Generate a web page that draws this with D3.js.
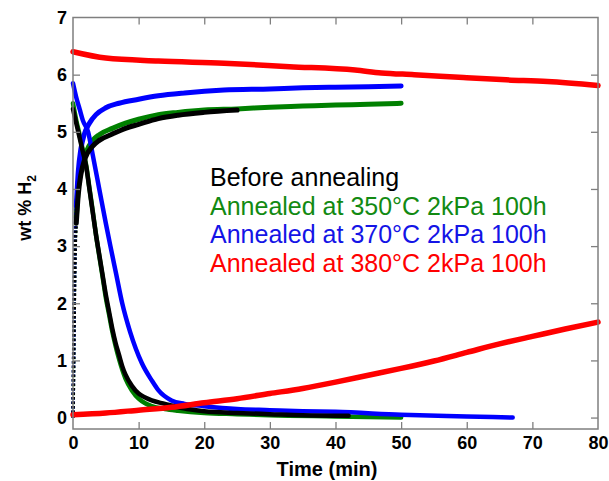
<!DOCTYPE html>
<html><head><meta charset="utf-8">
<script src="https://cdn.jsdelivr.net/npm/d3@7"></script>
<style>body{margin:0;background:#fff}svg{display:block;font-family:Arial,"Liberation Sans",sans-serif}</style>
</head><body><svg id="c" width="609" height="481"></svg>
<script>
// ---- data (time in min, wt % H2) ----
const xTicks = [0,10,20,30,40,50,60,70,80];
const yTicks = [0,1,2,3,4,5,6,7];
const legendLabels = ["Before annealing","Annealed at 350°C 2kPa 100h","Annealed at 370°C 2kPa 100h","Annealed at 380°C 2kPa 100h"];
const seriesColors = ["#000000","#008000","#0000ff","#ff0000"];
const legendColors = ["#000000","#128a12","#1414e6","#ff0000"];

const blackAbs = [[0,0],[0.1,1.0],[0.2,2.0],[0.3,2.8],[0.5,3.4],[0.8,3.9],[1.2,4.25],[1.9,4.55],[3,4.75],[4,4.85],[6,4.96],[8,5.06],[10,5.13],[13,5.23],[16,5.29],[20,5.34],[25,5.38]];
const blackDes = [[0,5.4],[0.5,5.15],[1,4.9],[1.5,4.65],[2,4.4],[2.5,4.0],[3,3.6],[3.5,3.2],[4,2.85],[4.5,2.5],[5,2.15],[5.5,1.85],[6,1.55],[6.5,1.3],[7,1.1],[7.5,0.9],[8,0.75],[9,0.55],[10,0.42],[11,0.35],[12,0.3],[14,0.24],[16,0.18],[18,0.14],[20,0.11],[25,0.08],[30,0.06],[35,0.04],[42,0.03]];

const greenAbs = [[0,0],[0.1,1.0],[0.2,2.1],[0.3,2.9],[0.5,3.5],[0.8,4.0],[1.2,4.35],[1.9,4.62],[3,4.85],[4,4.95],[6,5.06],[8,5.15],[10,5.22],[13,5.3],[16,5.34],[20,5.38],[25,5.4],[30,5.43],[35,5.45],[40,5.47],[45,5.48],[50,5.5]];
const greenDes = [[0,5.5],[0.5,5.2],[1,4.95],[1.5,4.68],[2,4.42],[2.5,4.02],[3,3.62],[3.5,3.2],[4,2.83],[4.5,2.47],[5,2.1],[5.5,1.8],[6,1.5],[6.5,1.25],[7,1.03],[7.5,0.84],[8,0.68],[9,0.47],[10,0.33],[11,0.25],[12,0.2],[14,0.15],[16,0.12],[20,0.08],[25,0.06],[30,0.04],[40,0.02],[50,0.0]];

const blueAbs = [[0,0],[0.1,1.1],[0.2,2.2],[0.3,3.0],[0.5,3.7],[0.8,4.3],[1.2,4.7],[1.7,4.95],[2.5,5.15],[3.5,5.3],[5,5.42],[7,5.5],[10,5.57],[13,5.63],[17,5.68],[23,5.73],[30,5.75],[35,5.77],[40,5.78],[50,5.8]];
const blueDes = [[0,5.85],[0.5,5.6],[1,5.4],[1.5,5.2],[2.3,5.0],[3,4.6],[4,4.0],[5,3.4],[5.7,3.0],[6.6,2.5],[7.5,2.0],[8.7,1.5],[10.5,0.95],[12,0.65],[13,0.48],[15,0.3],[17,0.24],[20,0.2],[25,0.15],[30,0.13],[35,0.11],[40,0.1],[50,0.05],[60,0.02],[67,0.0]];

const redAbs = [[0,0.05],[5,0.08],[10,0.13],[15,0.18],[20,0.26],[25,0.33],[30,0.42],[35,0.51],[40,0.62],[45,0.74],[50,0.86],[55,0.99],[60,1.14],[65,1.29],[70,1.42],[75,1.55],[80,1.67]];
const redDes = [[0,6.4],[5,6.29],[13,6.24],[23,6.2],[33,6.14],[43,6.08],[47,6.03],[52,6.0],[59.5,5.95],[66,5.91],[72.3,5.88],[80,5.81]];

const series = [
  {abs: greenAbs, des: greenDes, color: seriesColors[1]},
  {abs: blueAbs,  des: blueDes,  color: seriesColors[2]},
  {abs: blackAbs, des: blackDes, color: seriesColors[0]},
  {abs: redAbs,   des: redDes,   color: seriesColors[3]}
];

// ---- drawing ----
const svg = d3.select("#c");
const L = 73, R = 598, T = 17.5, B = 429;
const x = d3.scaleLinear().domain([0,80]).range([L,R]);
const y = d3.scaleLinear().domain([-0.2,7]).range([B,T]);
const axisColor = "#7f7f7f";

const line = d3.line().x(d=>x(d[0])).y(d=>y(d[1])).curve(d3.curveMonotoneX);

series.forEach(s=>{
  if (s.abs[1] && s.abs[1][0] <= 0.8) {
    // fast initial rise: sparse dots
    svg.append("path").attr("d", line(s.abs.filter(d=>d[0] <= 0.8))).attr("fill","none")
      .attr("stroke", s.color).attr("stroke-width", 3.5)
      .attr("stroke-dasharray","2.5,2").attr("stroke-linecap","butt");
    svg.append("path").attr("d", line(s.abs.filter(d=>d[0] >= 0.5))).attr("fill","none")
      .attr("stroke", s.color).attr("stroke-width", 5).attr("stroke-linejoin","round").attr("stroke-linecap","round");
  } else {
    svg.append("path").attr("d", line(s.abs)).attr("fill","none")
      .attr("stroke", s.color).attr("stroke-width", 5.5).attr("stroke-linejoin","round").attr("stroke-linecap","round");
  }
  svg.append("path").attr("d", line(s.des)).attr("fill","none")
    .attr("stroke", s.color).attr("stroke-width", s.color==="#ff0000"?5.5:4.5)
    .attr("stroke-linejoin","round").attr("stroke-linecap","round");
});

// frame
svg.append("rect").attr("x",L).attr("y",T).attr("width",R-L).attr("height",B-T)
  .attr("fill","none").attr("stroke",axisColor).attr("stroke-width",1.5);

// axes with inward ticks
const xb = svg.append("g").attr("transform",`translate(0,${B})`)
  .call(d3.axisBottom(x).tickValues(xTicks).tickSize(0).tickPadding(7).tickFormat(d3.format("d")));
const xt = svg.append("g").attr("transform",`translate(0,${T})`)
  .call(d3.axisTop(x).tickValues(xTicks.slice(1,-1)).tickSize(-7).tickFormat(""));
const xb2 = svg.append("g").attr("transform",`translate(0,${B})`)
  .call(d3.axisBottom(x).tickValues(xTicks.slice(1,-1)).tickSize(-7).tickFormat(""));
const yl = svg.append("g").attr("transform",`translate(${L},0)`)
  .call(d3.axisLeft(y).tickValues(yTicks).tickSize(0).tickPadding(6).tickFormat(d3.format("d")));
const yl2 = svg.append("g").attr("transform",`translate(${L},0)`)
  .call(d3.axisLeft(y).tickValues(yTicks.slice(1,-1)).tickSize(-7).tickFormat(""));
const yr = svg.append("g").attr("transform",`translate(${R},0)`)
  .call(d3.axisRight(y).tickValues(yTicks.slice(0,-1)).tickSize(-7).tickFormat(""));
[xb,xt,xb2,yl,yl2,yr].forEach(g=>{
  g.select(".domain").remove();
  g.selectAll("line").attr("stroke",axisColor).attr("stroke-width",1.3);
  g.selectAll("text").attr("font-size",18).attr("font-weight","bold").attr("fill","#000")
   .attr("font-family","Arial, 'Liberation Sans', sans-serif");
});

// axis titles
svg.append("text").attr("x",327).attr("y",476).attr("text-anchor","middle")
  .attr("font-size",20).attr("font-weight","bold").text("Time (min)");
const yt = svg.append("text").attr("transform","translate(31,208) rotate(-90)")
  .attr("text-anchor","middle").attr("font-size",18).attr("font-weight","bold");
yt.append("tspan").text("wt % H");
yt.append("tspan").attr("font-size",12).attr("dy",5).text("2");

// legend text
legendLabels.forEach((t,i)=>{
  svg.append("text").attr("x",210).attr("y",186+i*28.7)
    .attr("font-size",25).attr("fill",legendColors[i]).text(t);
});
</script>
</body></html>
